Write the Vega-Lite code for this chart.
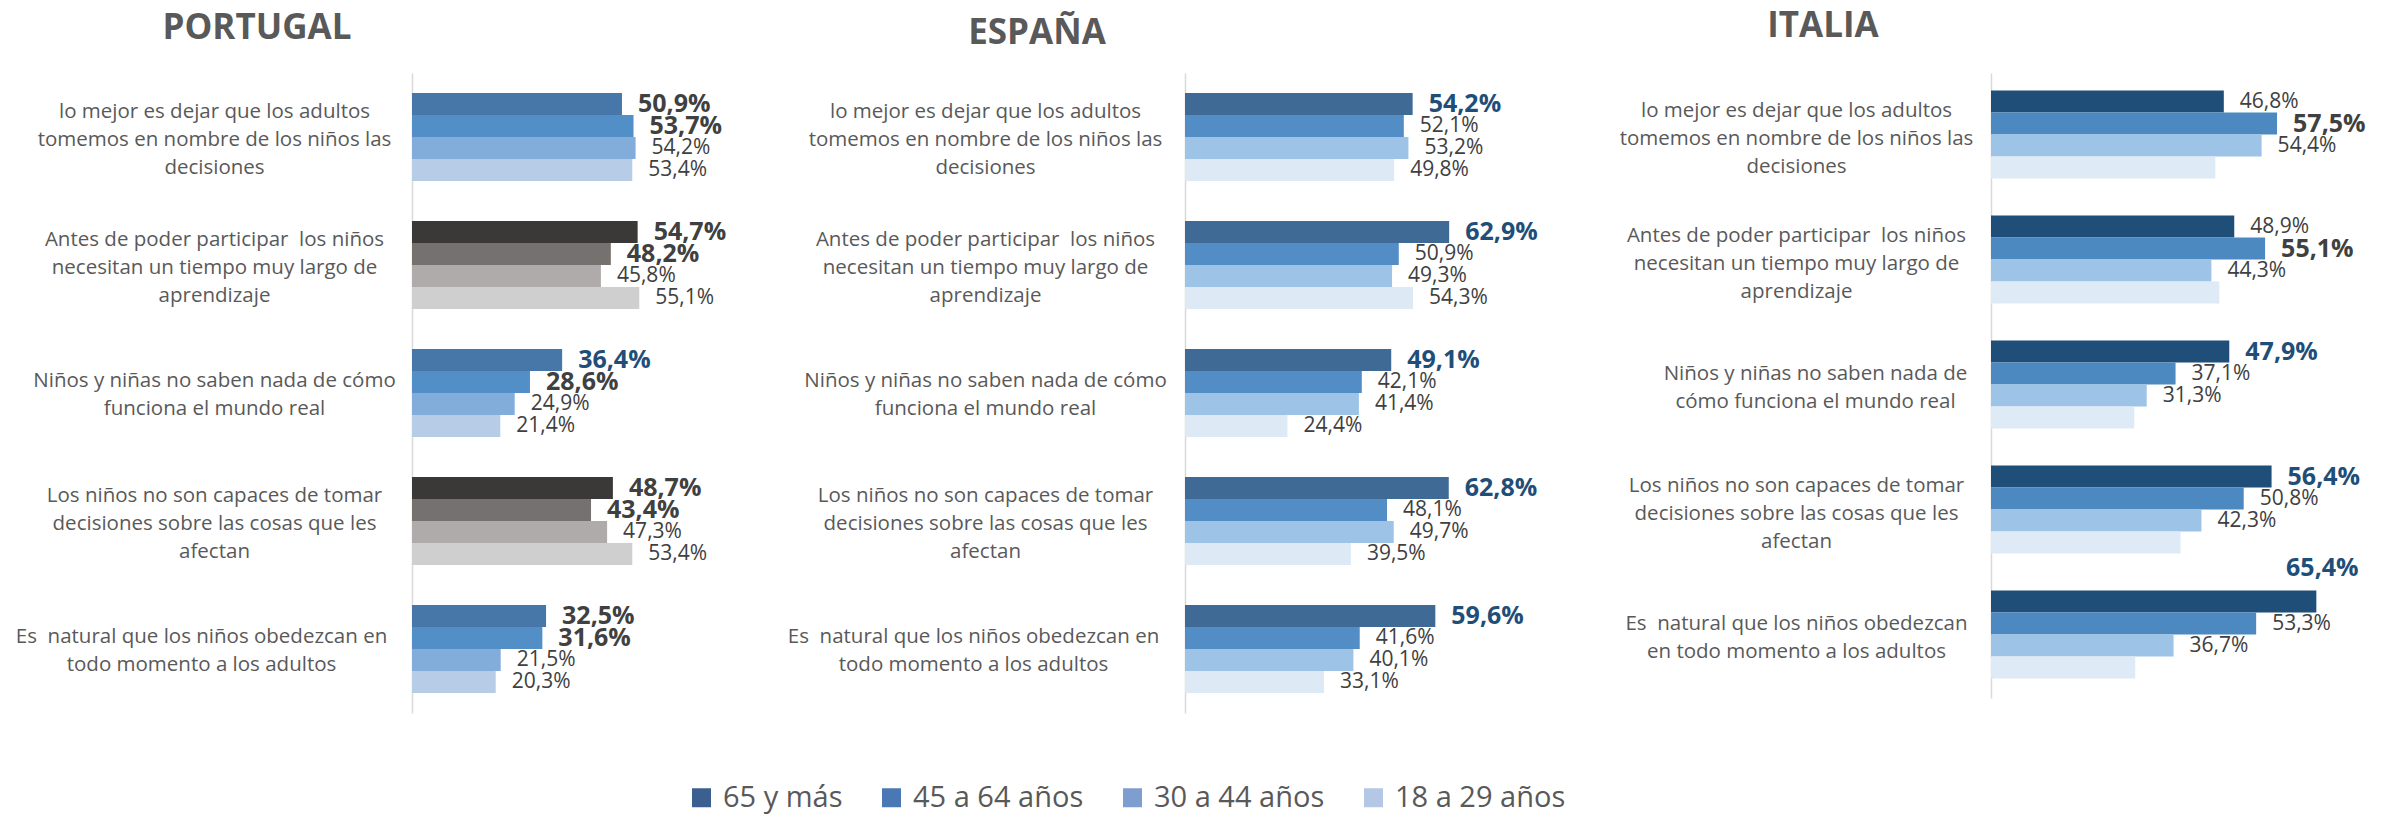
{
  "$schema": "https://vega.github.io/schema/vega-lite/v6.json",
  "background": "white",
  "padding": {"top": 9, "left": 0, "right": 0, "bottom": 20},
  "spacing": 0,
  "config": {"view": {"stroke": null}, "font": "Open Sans"},
  "datasets": {
    "preguntas": [
      {"orden": 1, "pregunta": "lo mejor es dejar que los adultos tomemos en nombre de los niños las decisiones"},
      {"orden": 2, "pregunta": "Antes de poder participar  los niños necesitan un tiempo muy largo de aprendizaje"},
      {"orden": 3, "pregunta": "Niños y niñas no saben nada de cómo funciona el mundo real"},
      {"orden": 4, "pregunta": "Los niños no son capaces de tomar decisiones sobre las cosas que les afectan"},
      {"orden": 5, "pregunta": "Es  natural que los niños obedezcan en todo momento a los adultos"}
    ],
    "encuesta": [
      {"pais": "PORTUGAL", "orden": 1, "edad": "65 y más", "valor": 50.9},
      {"pais": "PORTUGAL", "orden": 1, "edad": "45 a 64 años", "valor": 53.7},
      {"pais": "PORTUGAL", "orden": 1, "edad": "30 a 44 años", "valor": 54.2},
      {"pais": "PORTUGAL", "orden": 1, "edad": "18 a 29 años", "valor": 53.4},
      {"pais": "PORTUGAL", "orden": 2, "edad": "65 y más", "valor": 54.7},
      {"pais": "PORTUGAL", "orden": 2, "edad": "45 a 64 años", "valor": 48.2},
      {"pais": "PORTUGAL", "orden": 2, "edad": "30 a 44 años", "valor": 45.8},
      {"pais": "PORTUGAL", "orden": 2, "edad": "18 a 29 años", "valor": 55.1},
      {"pais": "PORTUGAL", "orden": 3, "edad": "65 y más", "valor": 36.4},
      {"pais": "PORTUGAL", "orden": 3, "edad": "45 a 64 años", "valor": 28.6},
      {"pais": "PORTUGAL", "orden": 3, "edad": "30 a 44 años", "valor": 24.9},
      {"pais": "PORTUGAL", "orden": 3, "edad": "18 a 29 años", "valor": 21.4},
      {"pais": "PORTUGAL", "orden": 4, "edad": "65 y más", "valor": 48.7},
      {"pais": "PORTUGAL", "orden": 4, "edad": "45 a 64 años", "valor": 43.4},
      {"pais": "PORTUGAL", "orden": 4, "edad": "30 a 44 años", "valor": 47.3},
      {"pais": "PORTUGAL", "orden": 4, "edad": "18 a 29 años", "valor": 53.4},
      {"pais": "PORTUGAL", "orden": 5, "edad": "65 y más", "valor": 32.5},
      {"pais": "PORTUGAL", "orden": 5, "edad": "45 a 64 años", "valor": 31.6},
      {"pais": "PORTUGAL", "orden": 5, "edad": "30 a 44 años", "valor": 21.5},
      {"pais": "PORTUGAL", "orden": 5, "edad": "18 a 29 años", "valor": 20.3},
      {"pais": "ESPAÑA", "orden": 1, "edad": "65 y más", "valor": 54.2},
      {"pais": "ESPAÑA", "orden": 1, "edad": "45 a 64 años", "valor": 52.1},
      {"pais": "ESPAÑA", "orden": 1, "edad": "30 a 44 años", "valor": 53.2},
      {"pais": "ESPAÑA", "orden": 1, "edad": "18 a 29 años", "valor": 49.8},
      {"pais": "ESPAÑA", "orden": 2, "edad": "65 y más", "valor": 62.9},
      {"pais": "ESPAÑA", "orden": 2, "edad": "45 a 64 años", "valor": 50.9},
      {"pais": "ESPAÑA", "orden": 2, "edad": "30 a 44 años", "valor": 49.3},
      {"pais": "ESPAÑA", "orden": 2, "edad": "18 a 29 años", "valor": 54.3},
      {"pais": "ESPAÑA", "orden": 3, "edad": "65 y más", "valor": 49.1},
      {"pais": "ESPAÑA", "orden": 3, "edad": "45 a 64 años", "valor": 42.1},
      {"pais": "ESPAÑA", "orden": 3, "edad": "30 a 44 años", "valor": 41.4},
      {"pais": "ESPAÑA", "orden": 3, "edad": "18 a 29 años", "valor": 24.4},
      {"pais": "ESPAÑA", "orden": 4, "edad": "65 y más", "valor": 62.8},
      {"pais": "ESPAÑA", "orden": 4, "edad": "45 a 64 años", "valor": 48.1},
      {"pais": "ESPAÑA", "orden": 4, "edad": "30 a 44 años", "valor": 49.7},
      {"pais": "ESPAÑA", "orden": 4, "edad": "18 a 29 años", "valor": 39.5},
      {"pais": "ESPAÑA", "orden": 5, "edad": "65 y más", "valor": 59.6},
      {"pais": "ESPAÑA", "orden": 5, "edad": "45 a 64 años", "valor": 41.6},
      {"pais": "ESPAÑA", "orden": 5, "edad": "30 a 44 años", "valor": 40.1},
      {"pais": "ESPAÑA", "orden": 5, "edad": "18 a 29 años", "valor": 33.1},
      {"pais": "ITALIA", "orden": 1, "edad": "65 y más", "valor": 46.8},
      {"pais": "ITALIA", "orden": 1, "edad": "45 a 64 años", "valor": 57.5},
      {"pais": "ITALIA", "orden": 1, "edad": "30 a 44 años", "valor": 54.4},
      {"pais": "ITALIA", "orden": 1, "edad": "18 a 29 años", "valor": 45.1},
      {"pais": "ITALIA", "orden": 2, "edad": "65 y más", "valor": 48.9},
      {"pais": "ITALIA", "orden": 2, "edad": "45 a 64 años", "valor": 55.1},
      {"pais": "ITALIA", "orden": 2, "edad": "30 a 44 años", "valor": 44.3},
      {"pais": "ITALIA", "orden": 2, "edad": "18 a 29 años", "valor": 45.9},
      {"pais": "ITALIA", "orden": 3, "edad": "65 y más", "valor": 47.9},
      {"pais": "ITALIA", "orden": 3, "edad": "45 a 64 años", "valor": 37.1},
      {"pais": "ITALIA", "orden": 3, "edad": "30 a 44 años", "valor": 31.3},
      {"pais": "ITALIA", "orden": 3, "edad": "18 a 29 años", "valor": 28.8},
      {"pais": "ITALIA", "orden": 4, "edad": "65 y más", "valor": 56.4},
      {"pais": "ITALIA", "orden": 4, "edad": "45 a 64 años", "valor": 50.8},
      {"pais": "ITALIA", "orden": 4, "edad": "30 a 44 años", "valor": 42.3},
      {"pais": "ITALIA", "orden": 4, "edad": "18 a 29 años", "valor": 38.1},
      {"pais": "ITALIA", "orden": 5, "edad": "65 y más", "valor": 65.4},
      {"pais": "ITALIA", "orden": 5, "edad": "45 a 64 años", "valor": 53.3},
      {"pais": "ITALIA", "orden": 5, "edad": "30 a 44 años", "valor": 36.7},
      {"pais": "ITALIA", "orden": 5, "edad": "18 a 29 años", "valor": 29.0}
    ]
  },
  "data": {"name": "encuesta"},
  "resolve": {"scale": {"fill": "independent"}, "legend": {"fill": "independent"}},
  "hconcat": [
    {
      "width": 330,
      "height": 640,
      "title": {"text": "PORTUGAL", "anchor": "start", "frame": "group", "align": "center", "dx": -155, "offset": -1, "baseline": "alphabetic", "fontSize": 35, "font": "Open Sans", "fontWeight": "bold", "color": "#595959"},
      "transform": [
        {"filter": "datum.pais == 'PORTUGAL'"},
        {"lookup": "orden", "from": {"data": {"name": "preguntas"}, "key": "orden", "fields": ["pregunta"]}},
        {"calculate": "replace(format(datum.valor, '.1f'), '.', ',') + '%'", "as": "etiqueta"},
        {"calculate": "datum.edad == '65 y más' && datum.orden == 3 ? 'azul' : (datum.edad == '65 y más' || datum.edad == '45 a 64 años') ? 'negrita' : 'normal'", "as": "estilo"},
        {"calculate": "(datum.orden == 2 || datum.orden == 4) ? datum.edad + ' gris' : datum.edad", "as": "tono"}
      ],
      "encoding": {
        "y": {"field": "pregunta", "type": "nominal", "sort": {"field": "orden", "op": "min"},
          "scale": {"paddingInner": 0.3125, "paddingOuter": 0.15625},
          "axis": {"title": null, "domainColor": "#D9D9D9", "domainWidth": 1.5, "ticks": false, "tickSize": 0,
            "labelPadding": {"condition": {"test": "indexof(datum.value, 'Es ') == 0", "value": 211}, "value": 198},
            "labelOffset": {"condition": {"test": "indexof(datum.value, 'Niños') == 0 || indexof(datum.value, 'Es ') == 0", "value": -12}, "value": -25},
            "labelAlign": "center", "labelBaseline": "middle", "labelFont": "Open Sans", "labelFontSize": 20.5, "labelColor": "#595959", "labelLineHeight": 28, "labelLimit": 600, "minExtent": 412, "maxExtent": 412,
            "labelExpr": "indexof(datum.value, 'lo mejor') == 0 ? ['lo mejor es dejar que los adultos', 'tomemos en nombre de los niños las', 'decisiones'] : indexof(datum.value, 'Antes') == 0 ? ['Antes de poder participar\u00a0 los niños', 'necesitan un tiempo muy largo de', 'aprendizaje'] : indexof(datum.value, 'Niños') == 0 ? ['Niños y niñas no saben nada de cómo', 'funciona el mundo real'] : indexof(datum.value, 'Los niños') == 0 ? ['Los niños no son capaces de tomar', 'decisiones sobre las cosas que les', 'afectan'] : ['Es\u00a0 natural que los niños obedezcan en', 'todo momento a los adultos']"}},
        "yOffset": {"field": "edad", "type": "nominal", "sort": ["65 y más", "45 a 64 años", "30 a 44 años", "18 a 29 años"], "scale": {"paddingInner": 0, "paddingOuter": 0}},
        "x": {"field": "valor", "type": "quantitative", "scale": {"domain": [0, 80], "nice": false}, "axis": null}
      },
      "layer": [
        {"mark": {"type": "bar"},
         "encoding": {"fill": {"field": "tono", "type": "nominal", "legend": null,
           "scale": {"domain": ["65 y más", "45 a 64 años", "30 a 44 años", "18 a 29 años", "65 y más gris", "45 a 64 años gris", "30 a 44 años gris", "18 a 29 años gris"],
                     "range": ["#4677A8", "#538FC7", "#82ADDB", "#B7CCE7", "#3A3938", "#75716F", "#AEABAA", "#D0CFD0"]}}}},
        {"transform": [{"filter": "datum.estilo == 'normal'"}],
         "mark": {"type": "text", "align": "left", "baseline": "middle", "dx": 16, "font": "Open Sans", "fontSize": 21, "color": "#404040"},
         "encoding": {"text": {"field": "etiqueta"}}},
        {"transform": [{"filter": "datum.estilo == 'negrita'"}],
         "mark": {"type": "text", "align": "left", "baseline": "middle", "dx": 16, "font": "Open Sans", "fontSize": 25, "fontWeight": "bold", "color": "#404040"},
         "encoding": {"text": {"field": "etiqueta"}}},
        {"transform": [{"filter": "datum.estilo == 'azul'"}],
         "mark": {"type": "text", "align": "left", "baseline": "middle", "dx": 16, "font": "Open Sans", "fontSize": 25, "fontWeight": "bold", "color": "#1F4E79"},
         "encoding": {"text": {"field": "etiqueta"}}}
      ]
    },
    {
      "width": 357,
      "height": 640,
      "title": {"text": "ESPAÑA", "anchor": "start", "frame": "group", "align": "center", "dx": -148, "offset": -6, "baseline": "alphabetic", "fontSize": 35, "font": "Open Sans", "fontWeight": "bold", "color": "#595959"},
      "transform": [
        {"filter": "datum.pais == 'ESPAÑA'"},
        {"lookup": "orden", "from": {"data": {"name": "preguntas"}, "key": "orden", "fields": ["pregunta"]}},
        {"calculate": "replace(format(datum.valor, '.1f'), '.', ',') + '%'", "as": "etiqueta"},
        {"calculate": "datum.edad == '65 y más' ? 'azul' : 'normal'", "as": "estilo"}
      ],
      "encoding": {
        "y": {"field": "pregunta", "type": "nominal", "sort": {"field": "orden", "op": "min"},
          "scale": {"paddingInner": 0.3125, "paddingOuter": 0.15625},
          "axis": {"title": null, "domainColor": "#D9D9D9", "domainWidth": 1.5, "ticks": false, "tickSize": 0,
            "labelPadding": {"condition": {"test": "indexof(datum.value, 'Es ') == 0", "value": 212}, "value": 200},
            "labelOffset": {"condition": {"test": "indexof(datum.value, 'Niños') == 0 || indexof(datum.value, 'Es ') == 0", "value": -12}, "value": -25},
            "labelAlign": "center", "labelBaseline": "middle", "labelFont": "Open Sans", "labelFontSize": 20.5, "labelColor": "#595959", "labelLineHeight": 28, "labelLimit": 600, "minExtent": 443, "maxExtent": 443,
            "labelExpr": "indexof(datum.value, 'lo mejor') == 0 ? ['lo mejor es dejar que los adultos', 'tomemos en nombre de los niños las', 'decisiones'] : indexof(datum.value, 'Antes') == 0 ? ['Antes de poder participar\u00a0 los niños', 'necesitan un tiempo muy largo de', 'aprendizaje'] : indexof(datum.value, 'Niños') == 0 ? ['Niños y niñas no saben nada de cómo', 'funciona el mundo real'] : indexof(datum.value, 'Los niños') == 0 ? ['Los niños no son capaces de tomar', 'decisiones sobre las cosas que les', 'afectan'] : ['Es\u00a0 natural que los niños obedezcan en', 'todo momento a los adultos']"}},
        "yOffset": {"field": "edad", "type": "nominal", "sort": ["65 y más", "45 a 64 años", "30 a 44 años", "18 a 29 años"], "scale": {"paddingInner": 0, "paddingOuter": 0}},
        "x": {"field": "valor", "type": "quantitative", "scale": {"domain": [0, 85], "nice": false}, "axis": null}
      },
      "layer": [
        {"mark": {"type": "bar"},
         "encoding": {"fill": {"field": "edad", "type": "nominal", "legend": null,
           "scale": {"domain": ["65 y más", "45 a 64 años", "30 a 44 años", "18 a 29 años"], "range": ["#3E6A95", "#538DC5", "#9DC3E6", "#DDEAF6"]}}}},
        {"transform": [{"filter": "datum.estilo == 'normal'"}],
         "mark": {"type": "text", "align": "left", "baseline": "middle", "dx": 16, "font": "Open Sans", "fontSize": 21, "color": "#404040"},
         "encoding": {"text": {"field": "etiqueta"}}},
        {"transform": [{"filter": "datum.estilo == 'azul'"}],
         "mark": {"type": "text", "align": "left", "baseline": "middle", "dx": 16, "font": "Open Sans", "fontSize": 25, "fontWeight": "bold", "color": "#1F4E79"},
         "encoding": {"text": {"field": "etiqueta"}}},
        {"mark": {"type": "square", "opacity": 0},
         "encoding": {"color": {"field": "edad", "type": "nominal",
           "scale": {"domain": ["65 y más", "45 a 64 años", "30 a 44 años", "18 a 29 años"], "range": ["#3B5F8E", "#4A78B4", "#7E9ECF", "#B4C7E5"]},
           "legend": {"orient": "none", "legendX": 275, "legendY": 710, "direction": "horizontal", "columns": 4, "title": null, "symbolType": "square", "symbolSize": 361, "symbolOpacity": 1, "symbolStrokeWidth": 0, "labelFontSize": 29, "labelFont": "Open Sans", "labelColor": "#595959", "labelOffset": 7, "columnPadding": 34, "labelLimit": 400}}}}
      ]
    },
    {
      "width": 393,
      "height": 625,
      "title": {"text": "ITALIA", "anchor": "start", "frame": "group", "align": "center", "dx": -168, "offset": 1, "baseline": "alphabetic", "fontSize": 35, "font": "Open Sans", "fontWeight": "bold", "color": "#595959"},
      "transform": [
        {"filter": "datum.pais == 'ITALIA'"},
        {"lookup": "orden", "from": {"data": {"name": "preguntas"}, "key": "orden", "fields": ["pregunta"]}},
        {"calculate": "replace(format(datum.valor, '.1f'), '.', ',') + '%'", "as": "etiqueta"},
        {"calculate": "datum.edad == '18 a 29 años' ? 'ninguno' : datum.orden <= 2 ? (datum.edad == '45 a 64 años' ? 'negrita' : 'normal') : datum.edad == '65 y más' ? (datum.orden == 5 ? 'azul_arriba' : 'azul') : 'normal'", "as": "estilo"}
      ],
      "encoding": {
        "y": {"field": "pregunta", "type": "nominal", "sort": {"field": "orden", "op": "min"},
          "scale": {"paddingInner": 0.28, "paddingOuter": 0.14},
          "axis": {"title": null, "domainColor": "#D9D9D9", "domainWidth": 1.5, "ticks": false, "tickSize": 0,
            "labelPadding": {"condition": {"test": "indexof(datum.value, 'Niños') == 0", "value": 176}, "value": 195},
            "labelOffset": {"condition": {"test": "indexof(datum.value, 'Niños') == 0 || indexof(datum.value, 'Es ') == 0", "value": -12}, "value": -25},
            "labelAlign": "center", "labelBaseline": "middle", "labelFont": "Open Sans", "labelFontSize": 20.5, "labelColor": "#595959", "labelLineHeight": 28, "labelLimit": 600, "minExtent": 449, "maxExtent": 449,
            "labelExpr": "indexof(datum.value, 'lo mejor') == 0 ? ['lo mejor es dejar que los adultos', 'tomemos en nombre de los niños las', 'decisiones'] : indexof(datum.value, 'Antes') == 0 ? ['Antes de poder participar\u00a0 los niños', 'necesitan un tiempo muy largo de', 'aprendizaje'] : indexof(datum.value, 'Niños') == 0 ? ['Niños y niñas no saben nada de', 'cómo funciona el mundo real'] : indexof(datum.value, 'Los niños') == 0 ? ['Los niños no son capaces de tomar', 'decisiones sobre las cosas que les', 'afectan'] : ['Es\u00a0 natural que los niños obedezcan', 'en todo momento a los adultos']"}},
        "yOffset": {"field": "edad", "type": "nominal", "sort": ["65 y más", "45 a 64 años", "30 a 44 años", "18 a 29 años"], "scale": {"paddingInner": 0, "paddingOuter": 0}},
        "x": {"field": "valor", "type": "quantitative", "scale": {"domain": [0, 79], "nice": false}, "axis": null}
      },
      "layer": [
        {"mark": {"type": "bar"},
         "encoding": {"fill": {"field": "edad", "type": "nominal", "legend": null,
           "scale": {"domain": ["65 y más", "45 a 64 años", "30 a 44 años", "18 a 29 años"], "range": ["#1F4E79", "#4D89C1", "#9DC3E6", "#DEEAF6"]}}}},
        {"transform": [{"filter": "datum.estilo == 'normal'"}],
         "mark": {"type": "text", "align": "left", "baseline": "middle", "dx": 16, "font": "Open Sans", "fontSize": 21, "color": "#404040"},
         "encoding": {"text": {"field": "etiqueta"}}},
        {"transform": [{"filter": "datum.estilo == 'negrita'"}],
         "mark": {"type": "text", "align": "left", "baseline": "middle", "dx": 16, "font": "Open Sans", "fontSize": 25, "fontWeight": "bold", "color": "#404040"},
         "encoding": {"text": {"field": "etiqueta"}}},
        {"transform": [{"filter": "datum.estilo == 'azul'"}],
         "mark": {"type": "text", "align": "left", "baseline": "middle", "dx": 16, "font": "Open Sans", "fontSize": 25, "fontWeight": "bold", "color": "#1F4E79"},
         "encoding": {"text": {"field": "etiqueta"}}},
        {"transform": [{"filter": "datum.estilo == 'azul_arriba'"}],
         "mark": {"type": "text", "align": "center", "baseline": "middle", "dx": 6, "dy": -34, "font": "Open Sans", "fontSize": 25, "fontWeight": "bold", "color": "#1F4E79"},
         "encoding": {"text": {"field": "etiqueta"}}}
      ]
    }
  ]
}
